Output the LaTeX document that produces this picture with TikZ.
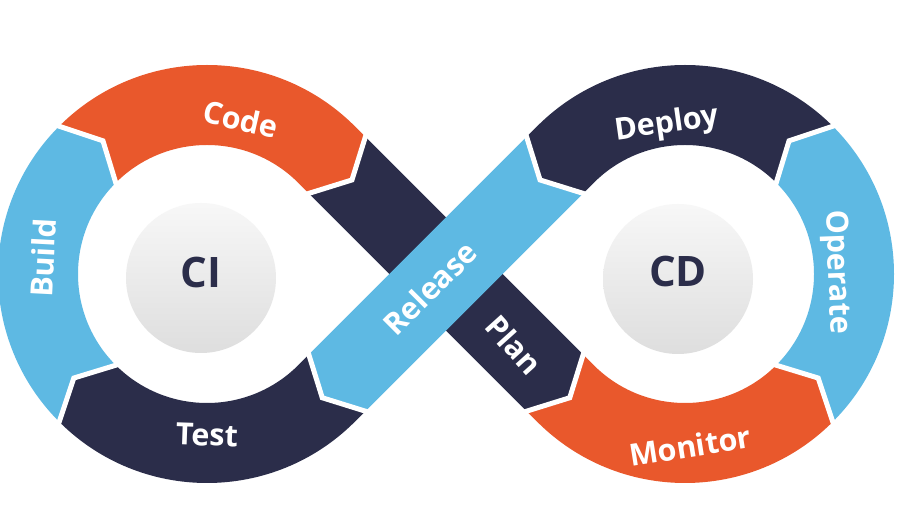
\documentclass[tikz,border=0pt]{standalone}
\usepackage{fontspec}
\setmainfont{Open Sans}
\usetikzlibrary{calc}
\definecolor{dvorange}{RGB}{233,88,44}
\definecolor{dvnavy}{RGB}{43,45,74}
\definecolor{dvblue}{RGB}{94,185,227}
\begin{document}
\begin{tikzpicture}[x=1pt,y=1pt,
  lbl/.style={text=white,font=\bfseries\fontsize{30.5}{30.5}\selectfont,inner sep=0pt},
  bigtxt/.style={text=dvnavy,font=\bfseries\fontsize{42}{42}\selectfont,inner sep=0pt},
  greycirc/.style={circle,minimum size=150pt,inner sep=0pt,top color=black!3,bottom color=black!13},
  sepline/.style={draw=white,line width=5pt,line cap=rect,line join=miter}]
\useasboundingbox (0,0) rectangle (900,506);
\fill[white] (0,0) rectangle (900,506);
\coordinate (L) at (207,232);
\coordinate (R) at (685,232);
\begin{scope}[shift={(446,232)},rotate=-45]
 \coordinate (P1o) at (-154,40); \coordinate (P1t) at (-133,0); \coordinate (P1i) at (-154,-40);
 \coordinate (P2o) at (154,-40); \coordinate (P2t) at (175,0); \coordinate (P2i) at (154,40);
\end{scope}
\begin{scope}[shift={(446,232)},rotate=45]
 \coordinate (Q1o) at (154,40); \coordinate (Q1t) at (133,0); \coordinate (Q1i) at (154,-40);
 \coordinate (Q2o) at (-154,-40); \coordinate (Q2t) at (-175,0); \coordinate (Q2i) at (-154,40);
\end{scope}
% Plan band (under)
\fill[dvnavy] (P1o) -- (P2i) -- (P2t) -- (P2o) -- (P1i) -- (P1t) -- cycle;
% Code
\fill[dvorange] ($(L)+(135:209)$) arc[start angle=135,end angle=45,radius=209] -- (P1o) -- (P1t) -- (P1i)
  -- ($(L)+(45:129)$) arc[start angle=45,end angle=135,radius=129] -- ($(L)+(128:169)$) -- cycle;
% Build
\fill[dvblue] ($(L)+(225:209)$) arc[start angle=225,end angle=135,radius=209] -- ($(L)+(128:169)$)
  -- ($(L)+(135:129)$) arc[start angle=135,end angle=225,radius=129] -- ($(L)+(218:169)$) -- cycle;
% Test
\fill[dvnavy] (Q2o) -- ($(L)+(315:209)$) arc[start angle=315,end angle=225,radius=209] -- ($(L)+(218:169)$)
  -- ($(L)+(225:129)$) arc[start angle=225,end angle=315,radius=129] -- (Q2i) -- (Q2t) -- cycle;
% Monitor
\fill[dvorange] (P2o) -- ($(R)+(225:209)$) arc[start angle=225,end angle=315,radius=209] -- ($(R)+(322:169)$)
  -- ($(R)+(315:129)$) arc[start angle=315,end angle=225,radius=129] -- (P2i) -- (P2t) -- cycle;
% Operate
\fill[dvblue] ($(R)+(-45:209)$) arc[start angle=-45,end angle=45,radius=209] -- ($(R)+(52:169)$)
  -- ($(R)+(45:129)$) arc[start angle=45,end angle=-45,radius=129] -- ($(R)+(-38:169)$) -- cycle;
% Deploy
\fill[dvnavy] ($(R)+(45:209)$) arc[start angle=45,end angle=135,radius=209] -- (Q1o) -- (Q1t) -- (Q1i)
  -- ($(R)+(135:129)$) arc[start angle=135,end angle=45,radius=129] -- ($(R)+(52:169)$) -- cycle;
% Release band (over)
\fill[dvblue] (Q1o) -- (Q1t) -- (Q1i) -- (Q2o) -- (Q2t) -- (Q2i) -- cycle;
% separators
\draw[sepline] ($(L)+(135:209)$) -- ($(L)+(128:169)$) -- ($(L)+(135:129)$);
\draw[sepline] ($(L)+(225:209)$) -- ($(L)+(218:169)$) -- ($(L)+(225:129)$);
\draw[sepline] ($(R)+(-45:209)$) -- ($(R)+(-38:169)$) -- ($(R)+(-45:129)$);
\draw[sepline] ($(R)+(45:209)$) -- ($(R)+(52:169)$) -- ($(R)+(45:129)$);
\draw[sepline] (P1o) -- (P1t) -- (P1i);
\draw[sepline] (P2o) -- (P2t) -- (P2i);
\draw[sepline] (Q1o) -- (Q1t) -- (Q1i);
\draw[sepline] (Q2o) -- (Q2t) -- (Q2i);
% centre discs
\node[greycirc] (cibg) at (201,228) {};
\node[greycirc] (cdbg) at (678,227) {};
\node[bigtxt] (ci) at (201,233) {CI};
\node[bigtxt] (cd) at (678,234) {CD};
% labels
\node[lbl,rotate=-13] (code) at (241,387) {Code};
\node[lbl,rotate=87] (build) at (43,248) {Build};
\node[lbl,rotate=-2] (test) at (207,71) {Test};
\node[lbl,rotate=8] (deploy) at (667,381) {Deploy};
\node[lbl,rotate=-88] (operate) at (836,234) {Operate};
\node[lbl,rotate=9] (monitor) at (690,60) {Monitor};
\node[lbl,rotate=45] (release) at (430,218) {Release};
\node[lbl,rotate=-48] (plan) at (514,161) {Plan};
\end{tikzpicture}
\end{document}
